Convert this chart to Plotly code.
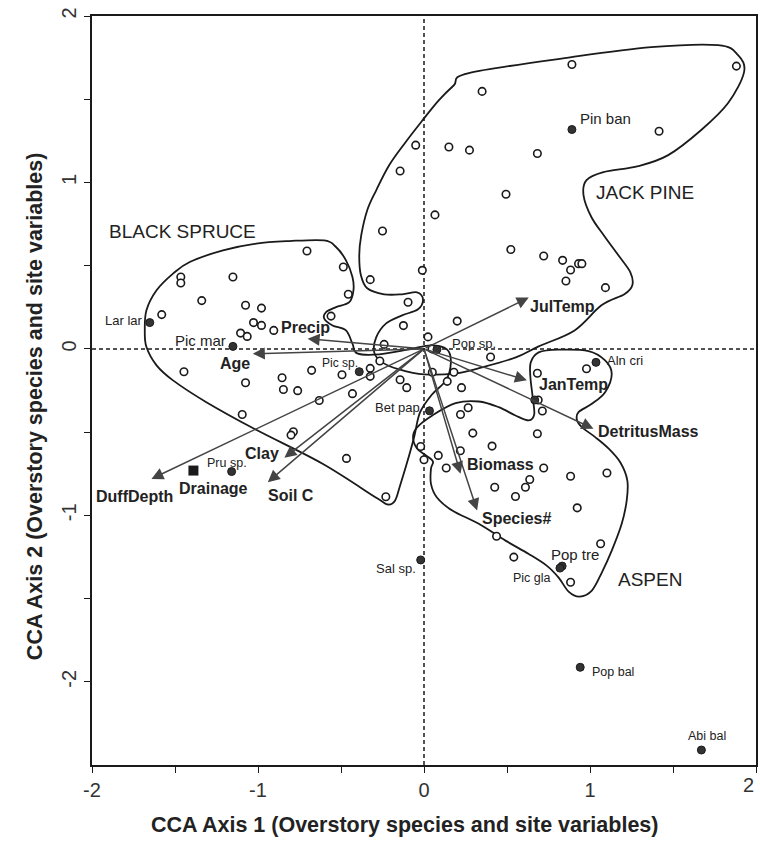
import plotly.graph_objects as go

# ---- Site scores (open circles) ----
site_x = [-0.050, -0.144, -0.250, -0.010, -0.324, -0.096, -0.124, -0.240, 0.024, -0.705,
          -0.486, -0.456, -0.560, -1.465, -1.465, -1.151, -1.339, -1.580, -1.075, -0.979,
          -1.027, -0.979, -0.905, -1.105, -1.065, 0.891, 1.882, 0.350, 1.416, 0.150,
          0.274, 0.683, 0.494, 0.066, 0.523, 0.721, 0.835, 0.931, 0.951, 0.883,
          0.855, 1.093, 0.200, -1.446, -1.075, -0.855, -0.847, -0.761, -0.677, -0.494,
          -0.324, -0.324, -0.266, -0.144, -0.104, -0.431, -0.631, -1.095, -0.787, -0.801,
          -0.467, -0.230, -0.020, 0.000, 0.401, 0.050, 0.180, 0.140, 0.226, 0.683,
          0.979, 0.688, 0.713, 0.266, 0.220, 0.294, 0.683, 0.410, 0.219, 0.086,
          0.134, 0.721, 0.883, 1.102, 0.637, 0.611, 0.426, 0.551, 0.923, 0.437,
          0.541, 1.064, 0.883, 0.048]
site_y = [1.224, 1.069, 0.708, 0.472, 0.416, 0.280, 0.140, 0.027, 0.072, 0.588,
          0.492, 0.328, 0.197, 0.432, 0.396, 0.432, 0.290, 0.206, 0.262, 0.245,
          0.158, 0.141, 0.111, 0.095, 0.075, 1.709, 1.699, 1.547, 1.308, 1.213,
          1.194, 1.174, 0.929, 0.805, 0.597, 0.558, 0.532, 0.512, 0.512, 0.474,
          0.408, 0.368, 0.167, -0.137, -0.203, -0.173, -0.244, -0.251, -0.129, -0.155,
          -0.117, -0.165, -0.073, -0.185, -0.233, -0.269, -0.310, -0.394, -0.498, -0.518,
          -0.658, -0.888, -0.586, -0.666, -0.049, -0.140, -0.140, -0.195, -0.233, -0.146,
          -0.119, -0.307, -0.373, -0.354, -0.394, -0.506, -0.510, -0.584, -0.612, -0.640,
          -0.716, -0.716, -0.765, -0.746, -0.785, -0.831, -0.831, -0.887, -0.955, -1.126,
          -1.251, -1.171, -1.402, 0.000]

# ---- Species scores (filled circles) ----
species_names = ["Lar lar", "Pic mar", "Pin ban", "Pic sp.", "Pop sp.", "Aln cri", "Bet pap",
                 "", "Pru sp.", "Sal sp.", "Pop tre", "Pic gla", "Pop bal", "Abi bal"]
species_x = [-1.652, -1.151, 0.891, -0.390, 0.078, 1.036, 0.033,
             0.667, -1.159, -0.020, 0.832, 0.819, 0.941, 1.671]
species_y = [0.158, 0.015, 1.318, -0.137, -0.003, -0.081, -0.372,
             -0.307, -0.737, -1.268, -1.305, -1.317, -1.913, -2.410]
# label centre positions and font sizes
species_lx = [-1.808, -1.348, 1.093, -0.509, 0.303, 1.209, -0.158,
              0.0, -1.186, -0.168, 0.911, 0.649, 1.139, 1.703]
species_ly = [0.171, 0.051, 1.384, -0.085, 0.031, -0.069, -0.350,
              0.0, -0.683, -1.318, -1.238, -1.376, -1.939, -2.324]
species_fs = [13, 15, 15, 12, 13, 13, 13, 12, 12.5, 13, 15, 12.5, 12.5, 12.5]

# ---- Environmental variables (biplot arrows) ----
env_names = ["JulTemp", "Precip", "Age", "DuffDepth", "Clay", "Soil C",
             "Biomass", "Species#", "JanTemp", "DetritusMass"]
env_x = [0.631, -0.701, -1.031, -1.642, -0.841, -0.941, 0.220, 0.320, 0.620, 1.021]
env_y = [0.308, 0.061, -0.029, -0.781, -0.654, -0.801, -0.750, -0.971, -0.189, -0.480]
env_lx = [0.833, -0.714, -1.138, -1.742, -0.973, -0.799, 0.458, 0.556, 0.901, 1.351]
env_ly = [0.256, 0.131, -0.085, -0.887, -0.627, -0.881, -0.695, -1.017, -0.215, -0.494]

# nominal variable centroid
drain_x = [-1.389]
drain_y = [-0.731]
drain_lx, drain_ly = -1.269, -0.837

# ---- Forest-type envelopes ----
spruce_x = [-1.682, -1.672, -1.611, -1.512, -1.411, -1.211, -1.011, -0.811, -0.601, -0.530,
            -0.470, -0.431, -0.425, -0.450, -0.530, -0.590, -0.601, -0.551, -0.470, -0.431,
            -0.402, -0.270, -0.090, 0.042, 0.138, 0.162, 0.132, 0.048, -0.024, -0.060,
            -0.102, -0.144, -0.174, -0.216, -0.282, -0.611, -1.011, -1.311, -1.512, -1.611,
            -1.672]
spruce_y = [0.111, 0.232, 0.352, 0.452, 0.522, 0.592, 0.633, 0.648, 0.652, 0.612,
            0.532, 0.432, 0.352, 0.281, 0.251, 0.221, 0.182, 0.141, 0.111, 0.031,
            -0.027, -0.033, -0.003, 0.021, -0.003, -0.081, -0.189, -0.274, -0.382, -0.532,
            -0.683, -0.821, -0.911, -0.935, -0.898, -0.690, -0.486, -0.320, -0.189, -0.099,
            0.011]

pine_x = [0.270, 0.889, 1.369, 1.772, 1.892, 1.928, 1.832, 1.670, 1.471, 1.291,
          1.081, 0.979, 0.961, 1.009, 1.087, 1.171, 1.243, 1.255, 1.207, 1.069,
          0.907, 0.691, 0.553, 0.348, 0.192, 0.000, -0.150, -0.252, -0.300, -0.288,
          -0.228, -0.132, -0.036, -0.006, -0.042, -0.132, -0.240, -0.342, -0.380, -0.390,
          -0.378, -0.342, -0.288, -0.210, -0.120, -0.018, 0.090, 0.180]
pine_y = [1.657, 1.753, 1.813, 1.825, 1.765, 1.663, 1.477, 1.315, 1.164, 1.098,
          1.062, 1.014, 0.923, 0.791, 0.677, 0.562, 0.460, 0.382, 0.328, 0.262,
          0.111, 0.015, -0.051, -0.111, -0.147, -0.153, -0.123, -0.081, -0.021, 0.069,
          0.153, 0.201, 0.238, 0.298, 0.340, 0.328, 0.328, 0.364, 0.442, 0.562,
          0.683, 0.833, 0.953, 1.103, 1.230, 1.362, 1.494, 1.584]

aspen_x = [0.641, 0.643, 0.691, 0.811, 0.991, 1.091, 1.131, 1.091, 1.011, 0.931,
           0.921, 0.951, 1.031, 1.111, 1.183, 1.225, 1.221, 1.191, 1.131, 1.071,
           1.011, 0.937, 0.871, 0.811, 0.739, 0.631, 0.491, 0.330, 0.170, 0.078,
           0.042, 0.042, 0.054, 0.012, -0.042, -0.066, -0.042, 0.050, 0.190, 0.330,
           0.450, 0.551, 0.631, 0.664, 0.655]
aspen_y = [-0.170, -0.081, -0.021, -0.005, -0.013, -0.069, -0.149, -0.260, -0.330, -0.380,
           -0.426, -0.470, -0.530, -0.598, -0.683, -0.791, -0.911, -1.051, -1.212, -1.344,
           -1.452, -1.488, -1.458, -1.374, -1.302, -1.232, -1.152, -1.051, -0.971, -0.893,
           -0.811, -0.719, -0.677, -0.640, -0.598, -0.532, -0.472, -0.400, -0.326, -0.316,
           -0.350, -0.400, -0.430, -0.394, -0.292]

group_names = ["BLACK SPRUCE", "JACK PINE", "ASPEN"]
group_lx = [-1.456, 1.330, 1.359]
group_ly = [0.707, 0.941, -1.388]

# axis ticks
x_ticks = [-2, -1, 0, 1, 2]
x_ticktext = ["-2", "-1", "0", "1", ""]
y_ticks = [-2, -1, 0, 1, 2]
y_ticktext = ["-2", "-1", "0", "1", "2"]
minor_ticks = [-1.5, -0.5, 0.5, 1.5]

x_title = "CCA Axis 1 (Overstory species and site variables)"
y_title = "CCA Axis 2 (Overstory species and site variables)"

FONT = "Liberation Sans, Arial, sans-serif"
INK = "#1a1a1a"


def closed_smooth_path(xs, ys):
    """Closed Catmull-Rom outline through the vertices, as an SVG path."""
    n = len(xs)
    pts = list(zip(xs, ys))
    d = f"M {pts[0][0]},{pts[0][1]}"
    for i in range(n):
        p0 = pts[(i - 1) % n]
        p1 = pts[i]
        p2 = pts[(i + 1) % n]
        p3 = pts[(i + 2) % n]
        c1 = (p1[0] + (p2[0] - p0[0]) / 6, p1[1] + (p2[1] - p0[1]) / 6)
        c2 = (p2[0] - (p3[0] - p1[0]) / 6, p2[1] - (p3[1] - p1[1]) / 6)
        d += f" C {c1[0]:.4f},{c1[1]:.4f} {c2[0]:.4f},{c2[1]:.4f} {p2[0]},{p2[1]}"
    return d + " Z"


fig = go.Figure()

shapes = []
for hx, hy in [(spruce_x, spruce_y), (pine_x, pine_y), (aspen_x, aspen_y)]:
    shapes.append(dict(type="path", path=closed_smooth_path(hx, hy), xref="x", yref="y",
                       line=dict(color=INK, width=1.8), layer="below"))
# dashed reference lines through the origin
shapes.append(dict(type="line", xref="x", yref="paper", x0=0, x1=0, y0=0, y1=1,
                   line=dict(color=INK, width=1.5, dash="4px,3px"), layer="below"))
shapes.append(dict(type="line", xref="paper", yref="y", x0=0, x1=1, y0=0, y1=0,
                   line=dict(color=INK, width=1.5, dash="4px,3px"), layer="below"))

fig.add_trace(go.Scatter(x=site_x, y=site_y, mode="markers", hoverinfo="skip",
                         marker=dict(symbol="circle", size=7.5, color="white",
                                     line=dict(color=INK, width=1.6))))
fig.add_trace(go.Scatter(x=species_x, y=species_y, mode="markers", hoverinfo="skip",
                         marker=dict(symbol="circle", size=8, color="#333333",
                                     line=dict(color=INK, width=1))))
fig.add_trace(go.Scatter(x=drain_x, y=drain_y, mode="markers", hoverinfo="skip",
                         marker=dict(symbol="square", size=10, color=INK)))

ann = []
for ex, ey in zip(env_x, env_y):
    ann.append(dict(x=ex, y=ey, ax=0, ay=0, xref="x", yref="y", axref="x", ayref="y",
                    text="", showarrow=True, arrowhead=2, arrowsize=1.6, arrowwidth=1.5,
                    arrowcolor="#444444"))
for name, lx, ly in zip(env_names, env_lx, env_ly):
    ann.append(dict(x=lx, y=ly, xref="x", yref="y", text=f"<b>{name}</b>", showarrow=False,
                    font=dict(family=FONT, size=16, color="#222222")))
ann.append(dict(x=drain_lx, y=drain_ly, xref="x", yref="y", text="<b>Drainage</b>",
                showarrow=False, font=dict(family=FONT, size=16, color="#222222")))
for name, lx, ly, fs in zip(species_names, species_lx, species_ly, species_fs):
    if name:
        ann.append(dict(x=lx, y=ly, xref="x", yref="y", text=name, showarrow=False,
                        font=dict(family=FONT, size=fs, color="#222222")))
for name, lx, ly in zip(group_names, group_lx, group_ly):
    ann.append(dict(x=lx, y=ly, xref="x", yref="y", text=name, showarrow=False,
                    font=dict(family=FONT, size=19, color="#222222")))
# last x tick label sits flush against the right edge of the frame
ann.append(dict(x=1, y=0, xref="paper", yref="paper", xanchor="right", yanchor="top",
                yshift=-7, text="2", showarrow=False,
                font=dict(family=FONT, size=20, color="#333333")))
# axis titles
ann.append(dict(x=0.47, y=-0.08, xref="paper", yref="paper", xanchor="center",
                yanchor="middle", text=f"<b>{x_title}</b>", showarrow=False,
                font=dict(family=FONT, size=21.5, color="#222222")))
ann.append(dict(x=-0.086, y=0.479, xref="paper", yref="paper", xanchor="center",
                yanchor="middle", textangle=-90, text=f"<b>{y_title}</b>", showarrow=False,
                font=dict(family=FONT, size=21.5, color="#222222")))

axis_common = dict(showgrid=False, zeroline=False, showline=True, linewidth=1.5,
                   linecolor=INK, mirror=True, ticks="outside", ticklen=6,
                   tickwidth=1.3, tickcolor=INK, tickmode="array",
                   tickfont=dict(family=FONT, size=20, color="#333333"))
minor_common = dict(tickvals=minor_ticks, ticks="outside", ticklen=6,
                    tickwidth=1.3, tickcolor=INK)

fig.update_layout(
    width=760, height=841,
    margin=dict(l=92, r=2, t=16, b=76),
    paper_bgcolor="white", plot_bgcolor="white",
    showlegend=False,
    shapes=shapes,
    annotations=ann,
    xaxis=dict(range=[-2, 2], tickvals=x_ticks, ticktext=x_ticktext, minor=minor_common,
               **axis_common),
    yaxis=dict(range=[-2.5, 2], tickvals=y_ticks, ticktext=y_ticktext, tickangle=-90,
               minor=minor_common, **axis_common),
)

fig.write_html("out.html")
